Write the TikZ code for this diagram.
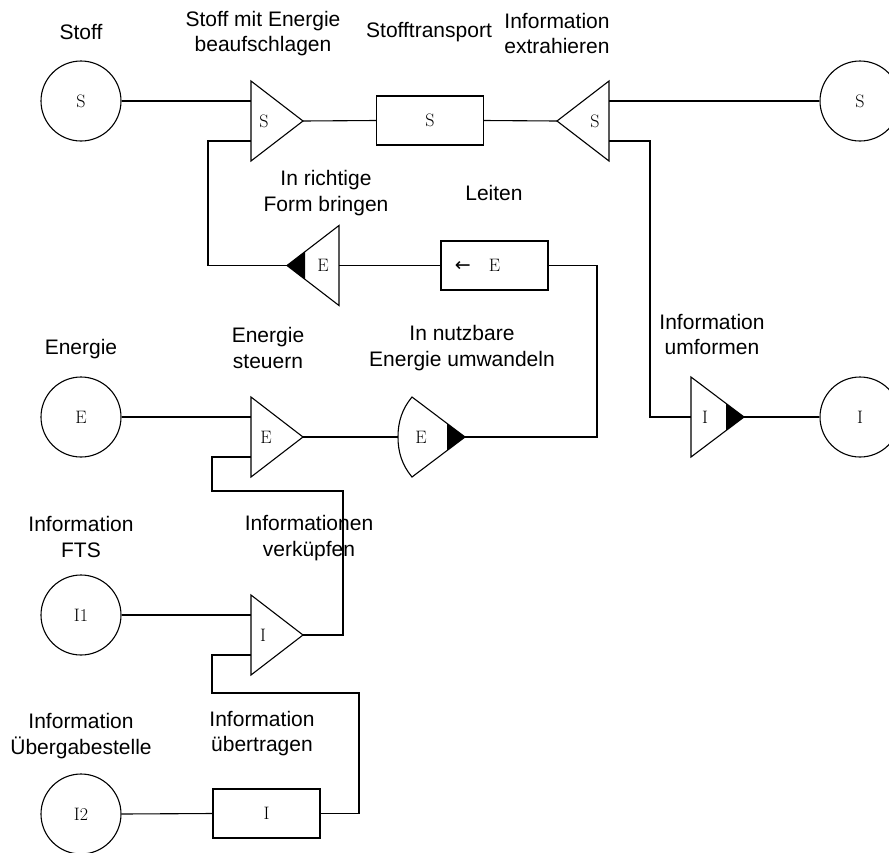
\documentclass[tikz,border=0pt]{standalone}
\usepackage{fontspec}
\newfontfamily\lblfont{Liberation Sans}
\newfontfamily\arrfont{DejaVu Sans}
\begin{document}
\begin{tikzpicture}[x=1pt,y=-1pt,line width=1.1pt,
  lbl/.style={font=\lblfont\fontsize{21}{25.5}\selectfont,align=center,inner sep=0pt},
  sym/.style={font=\fontsize{18}{20}\selectfont,inner sep=0pt},
  flow/.style={draw,circle,minimum size=80pt,inner sep=0pt,font=\fontsize{18}{20}\selectfont},
  fbox/.style={draw,rectangle,minimum width=107pt,minimum height=49pt,inner sep=0pt,font=\fontsize{18}{20}\selectfont},
  wire/.style={draw,line join=miter}]
\useasboundingbox (0,0) rectangle (889,852);

% circles
\node[flow] (S1) at (81,101) {S};
\node[flow] (S2) at (860,101) {S};
\node[flow] (E1) at (81,417) {E};
\node[flow] (I0) at (860,417) {I};
\node[flow] (I1) at (81,615) {I1};
\node[flow] (I2) at (81,814) {I2};

% boxes
\node[fbox] (B1) at (430,120.5) {S};
\node[fbox] (B2) at (494.5,265.5) {\makebox[0pt][r]{{\arrfont\fontsize{19}{20}\selectfont ←}\hspace{18pt}}E};
\node[fbox] (B3) at (266.5,813.5) {I};

% triangle T1 (Stoff mit Energie beaufschlagen)
\draw (251,81) -- (303,121) -- (251,161) -- cycle;
\coordinate (T1a) at (251,101);
\coordinate (T1b) at (251,141);
\coordinate (T1o) at (303,121);
\node[sym] (T1t) at (264,121) {S};

% triangle T2 (Information extrahieren)
\draw (609,81) -- (557,121) -- (609,161) -- cycle;
\coordinate (T2a) at (609,101);
\coordinate (T2b) at (609,141);
\coordinate (T2o) at (557,121);
\node[sym] (T2t) at (595,121) {S};

% triangle T3 (In richtige Form bringen)
\draw (339,225.5) -- (287,265.5) -- (339,305.5) -- cycle;
\fill (287,265.5) -- (305,251.65) -- (305,279.35) -- cycle;
\coordinate (T3o) at (287,265.5);
\coordinate (T3a) at (339,265.5);
\node[sym] (T3t) at (323,265.5) {E};

% triangle T4 (Energie steuern)
\draw (251,397) -- (303,437) -- (251,477) -- cycle;
\coordinate (T4a) at (251,417);
\coordinate (T4b) at (251,457);
\coordinate (T4o) at (303,437);
\node[sym] (T4t) at (266,437) {E};

% arc shape A (In nutzbare Energie umwandeln)
\draw (412,397) -- (465,437) -- (412,477) .. controls (402,465) and (398,452) .. (398,437) .. controls (398,422) and (402,409) .. cycle;
\fill (447,423.4) -- (465,437) -- (447,450.6) -- cycle;
\coordinate (Ai) at (398,437);
\coordinate (Ao) at (465,437);
\node[sym] (At) at (421,437) {E};

% triangle T5 (Information umformen)
\draw (691,377) -- (744,417) -- (691,457) -- cycle;
\fill (726,403.4) -- (744,417) -- (726,430.6) -- cycle;
\coordinate (T5a) at (691,417);
\coordinate (T5o) at (744,417);
\node[sym] (T5t) at (705,417) {I};

% triangle T6 (Informationen verkuepfen)
\draw (251,595) -- (303,635) -- (251,675) -- cycle;
\coordinate (T6a) at (251,615);
\coordinate (T6b) at (251,655);
\coordinate (T6o) at (303,635);
\node[sym] (T6t) at (263,635) {I};

% connectors
\draw[wire] (S1.east) -- (T1a);
\draw[wire] (T1o) -- (B1.west);
\draw[wire] (B1.east) -- (T2o);
\draw[wire] (S2.west) -- (T2a);
\draw[wire] (T2b) -- (650,141) -- (650,417) -- (T5a);
\draw[wire] (T5o) -- (I0.west);
\draw[wire] (T1b) -- (208,141) -- (208,265.5) -- (T3o);
\draw[wire] (T3a) -- (B2.west);
\draw[wire] (B2.east) -- (597,265.5) -- (597,437) -- (Ao);
\draw[wire] (E1.east) -- (T4a);
\draw[wire] (T4o) -- (Ai);
\draw[wire] (T4b) -- (212,457) -- (212,491) -- (343,491) -- (343,635) -- (T6o);
\draw[wire] (I1.east) -- (T6a);
\draw[wire] (T6b) -- (212,655) -- (212,693) -- (359,693) -- (359,813.5) -- (B3.east);
\draw[wire] (I2.east) -- (B3.west);

% labels
\node[lbl] (L1) at (81,32) {Stoff};
\node[lbl] (L2) at (263,33.5) {Stoff mit Energie\\beaufschlagen};
\node[lbl] (L3) at (429,32) {Stofftransport};
\node[lbl] (L4) at (557,33.5) {Information\\extrahieren};
\node[lbl] (L5) at (326,193) {In richtige\\Form bringen};
\node[lbl] (L6) at (494,193) {Leiten};
\node[lbl] (L7) at (81,349) {Energie};
\node[lbl] (L8) at (268,348) {Energie\\steuern};
\node[lbl] (L9) at (462,348) {In nutzbare\\Energie umwandeln};
\node[lbl] (L10) at (712,334.5) {Information\\umformen};
\node[lbl] (L11) at (81,537) {Information\\FTS};
\node[lbl] (L12) at (309,538) {Informationen\\verküpfen};
\node[lbl] (L13) at (81,736) {Information\\Übergabestelle};
\node[lbl] (L14) at (262,733.5) {Information\\übertragen};
\end{tikzpicture}
\end{document}
